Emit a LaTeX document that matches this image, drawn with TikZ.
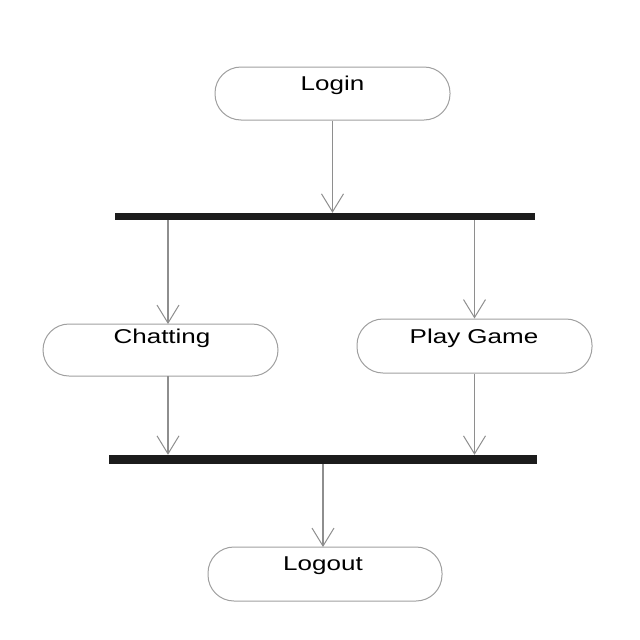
\documentclass[tikz,border=0pt]{standalone}
\usepackage{fontspec}
\usepackage{graphicx}
\setmainfont{Liberation Sans}
\usetikzlibrary{arrows.meta,calc}
\definecolor{linegray}{HTML}{8E8E8E}
\definecolor{boxgray}{HTML}{A0A0A0}
\definecolor{barblack}{HTML}{1C1C1C}
\tikzset{
  act/.style={draw=boxgray, line width=1pt, fill=white, rectangle, rounded corners=26pt, inner sep=0pt},
  lbl/.style={anchor=base, inner sep=0pt, font=\fontsize{20}{20}\selectfont},
  bar/.style={fill=barblack, draw=none, rectangle, inner sep=0pt},
  flow/.style={draw=linegray, line width=1.3pt, -{Straight Barb[length=18pt,width=22pt,line width=1pt]}}
}
\begin{document}
\begin{tikzpicture}[x=1pt,y=-1pt]
\useasboundingbox (0,0) rectangle (640,640);
% activities
\node[act, minimum width=235pt, minimum height=53pt] (login) at (332.5,93.5) {};
\node[act, minimum width=235pt, minimum height=52pt] (chat) at (160.5,350) {};
\node[act, minimum width=235pt, minimum height=54pt] (play) at (474.5,346) {};
\node[act, minimum width=234pt, minimum height=54pt] (logout) at (325,574) {};
% labels
\node[lbl] (tlogin) at (332.5,90) {\scalebox{1.3}[1]{Login}};
\node[lbl] (tchat) at (162,343) {\scalebox{1.3}[1]{Chatting}};
\node[lbl] (tplay) at (474,343) {\scalebox{1.3}[1]{Play Game}};
\node[lbl] (tlogout) at (323,570) {\scalebox{1.3}[1]{Logout}};
% bars
\node[bar, minimum width=420pt, minimum height=7pt] (fork) at (325,216.5) {};
\node[bar, minimum width=428pt, minimum height=9pt] (join) at (323,459.5) {};
% connector points
\coordinate (cin) at (168,324);
\coordinate (cout) at (168,376);
\coordinate (lin) at (323,547);
% connectors
\draw[flow] (login.south) -- (login.south |- fork.north);
\draw[flow] (fork.south -| cin) -- (cin);
\draw[flow] (fork.south -| play.north) -- (play.north);
\draw[flow] (cout) -- (join.north -| cout);
\draw[flow] (play.south) -- (join.north -| play.south);
\draw[flow] (join.south -| lin) -- (lin);
\end{tikzpicture}
\end{document}
